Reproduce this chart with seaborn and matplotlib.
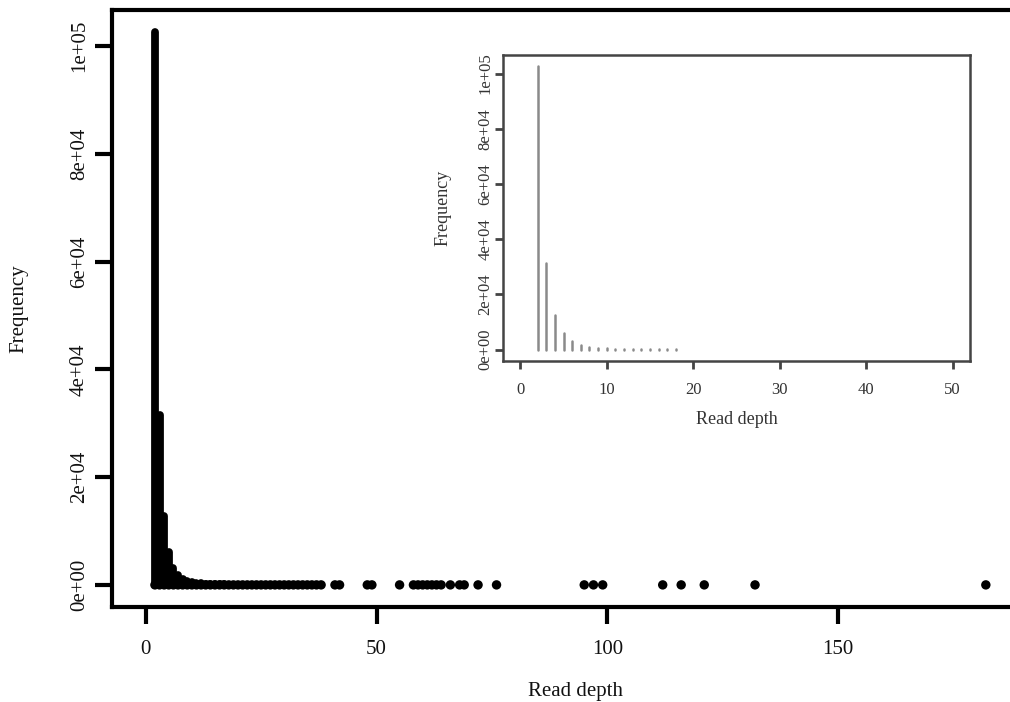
import pandas as pd
import seaborn as sns
import matplotlib
matplotlib.use("Agg")
import matplotlib.pyplot as plt
from matplotlib.ticker import FuncFormatter

# read depth -> number of sites
depth_dense = list(range(2, 39))
count_dense = [102600, 31500, 12700, 6100, 3200, 1800, 1100, 720, 500, 360,
               270, 210, 165, 130, 105, 85, 70, 58, 48, 40,
               34, 29, 25, 21, 18, 16, 14, 12, 10, 9,
               8, 7, 6, 5, 4, 4, 3]
depth_sparse = [41, 42, 48, 49, 55, 58, 59, 60, 61, 62, 63, 64, 66, 68, 69,
                72, 76, 95, 97, 99, 112, 116, 121, 132, 182]
count_sparse = [2, 2, 1, 1, 1, 2, 1, 2, 1, 1, 2, 1, 1, 1, 1,
                1, 1, 1, 1, 1, 1, 1, 1, 1, 1]

main_xticks = [0, 50, 100, 150]
inset_xticks = [0, 10, 20, 30, 40, 50]
yticks = [0, 20000, 40000, 60000, 80000, 100000]

df = pd.DataFrame({"depth": depth_dense + depth_sparse,
                   "count": count_dense + count_sparse})
inset_df = df[df["depth"] <= 50]

sns.set_style("ticks")
plt.rcParams["font.family"] = ["Liberation Serif", "DejaVu Serif"]
plt.rcParams["path.simplify"] = False

sci = FuncFormatter(lambda v, _: f"{v:.0e}")

fig = plt.figure(figsize=(10.1, 7.02), dpi=100)

# main panel (runs a little past the right edge, like the reference crop)
ax = fig.add_axes([112 / 1010, 95 / 702, 926 / 1010, 597 / 702])
ax.vlines(df["depth"], 0, df["count"], color="black", linewidth=5.6,
          capstyle="round")
# round line ends: short spikes show up as dots on the baseline
sns.scatterplot(data=df, x="depth", y=0, ax=ax, color="black", s=46,
                edgecolor="none", legend=False)
ax.set_xlim(-7.3, 193.3)
ax.set_ylim(-4104, 106704)
ax.set_xticks(main_xticks)
ax.set_yticks(yticks)
ax.yaxis.set_major_formatter(sci)
for s in ax.spines.values():
    s.set_linewidth(3)
    s.set_color("black")
ax.tick_params(axis="both", length=12, width=3, color="black",
               labelsize=15, labelcolor="#111111")
ax.tick_params(axis="x", pad=12)
ax.tick_params(axis="y", pad=4.5, labelrotation=90)
for t in ax.get_yticklabels():
    t.set_va("center")
ax.set_xlabel("Read depth", fontsize=15, color="#111111")
ax.set_ylabel("Frequency", fontsize=15, color="#111111")
ax.xaxis.set_label_coords(0.5, -0.125)
ax.yaxis.set_label_coords(-0.09, 0.5)

# inset: zoom on depth <= 50
ins = fig.add_axes([503 / 1010, 341 / 702, 467 / 1010, 306 / 702])
ins.set_facecolor("white")
ins.vlines(inset_df["depth"], 0, inset_df["count"], color="#8a8a8a",
           linewidth=1.8, capstyle="round")
ins.set_xlim(-2, 52)
ins.set_ylim(-4104, 106704)
ins.set_xticks(inset_xticks)
ins.set_yticks(yticks)
ins.yaxis.set_major_formatter(sci)
for s in ins.spines.values():
    s.set_linewidth(1.8)
    s.set_color("#444444")
ins.tick_params(axis="both", length=6, width=2, color="#444444",
                labelsize=12, labelcolor="#333333")
ins.tick_params(axis="x", pad=9)
ins.tick_params(axis="y", pad=1, labelrotation=90)
for t in ins.get_yticklabels():
    t.set_va("center")
ins.set_xlabel("Read depth", fontsize=13, color="#333333")
ins.set_ylabel("Frequency", fontsize=13, color="#333333")
ins.xaxis.set_label_coords(0.5, -0.163)
ins.yaxis.set_label_coords(-0.111, 0.5)

fig.savefig("out.png", dpi=100, facecolor="white")
